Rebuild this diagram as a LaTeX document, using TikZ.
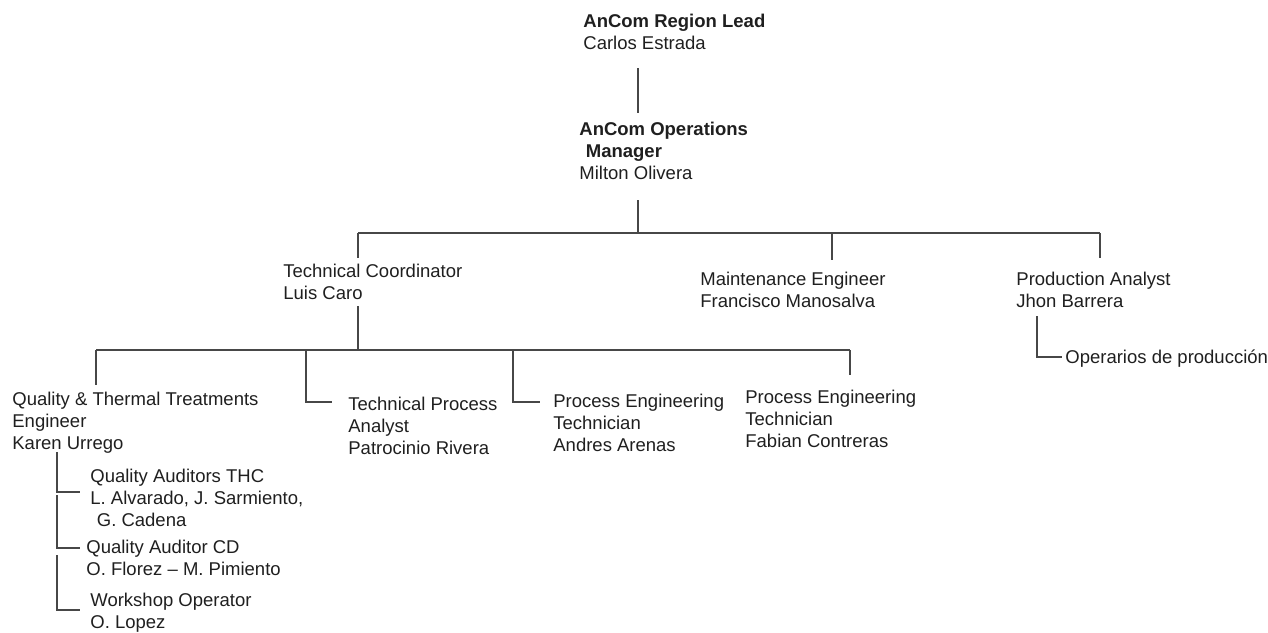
\documentclass[tikz,border=0pt]{standalone}
\usepackage{fontspec}
\setmainfont{Liberation Sans}
\begin{document}
\begin{tikzpicture}[x=0.5pt,y=-0.5pt,
  txt/.style={anchor=north west, inner sep=0pt, align=left, text=black!88,
    font=\fontsize{9.25}{10.9}\selectfont},
  conn/.style={draw=black!72, line width=0.8pt}]
\useasboundingbox (0,0) rectangle (1268,632);
% nodes
\node[txt] (lead) at (583,14) {\textbf{AnCom Region Lead}\\Carlos Estrada};
\node[txt] (ops) at (579,122) {\textbf{AnCom Operations}\\\hspace{0.35em}\textbf{Manager}\\Milton Olivera};
\node[txt] (tc) at (283,264) {Technical Coordinator\\Luis Caro};
\node[txt] (me) at (700,272) {Maintenance Engineer\\Francisco Manosalva};
\node[txt] (pa) at (1016,272) {Production Analyst\\Jhon Barrera};
\node[txt] (op) at (1065,349) {Operarios de producción};
\node[txt] (qe) at (12,392) {Quality \& Thermal Treatments\\Engineer\\Karen Urrego};
\node[txt] (tpa) at (348,397) {Technical Process\\Analyst\\Patrocinio Rivera};
\node[txt] (pet1) at (553,394) {Process Engineering\\Technician\\Andres Arenas};
\node[txt] (pet2) at (745,390) {Process Engineering\\Technician\\Fabian Contreras};
\node[txt] (qa) at (90,469) {Quality Auditors THC\\L. Alvarado, J. Sarmiento,\\\hspace{0.35em}G. Cadena};
\node[txt] (qcd) at (86,540) {Quality Auditor CD\\O. Florez -- M. Pimiento};
\node[txt] (wo) at (90,593) {Workshop Operator\\O. Lopez};
% junction coordinates
\coordinate (l1) at (638,68);
\coordinate (l2) at (638,113);
\coordinate (o1) at (638,200);
\coordinate (o2) at (638,233);
\coordinate (bA) at (358,233);
\coordinate (bB) at (832,233);
\coordinate (bC) at (1100,233);
\coordinate (dA) at (358,258);
\coordinate (dB) at (832,260);
\coordinate (dC) at (1100,258);
\coordinate (t1) at (358,306);
\coordinate (t2) at (358,350);
\coordinate (cA) at (96,350);
\coordinate (cB) at (306,350);
\coordinate (cC) at (513,350);
\coordinate (cD) at (850,350);
\coordinate (eA) at (96,385);
\coordinate (eB) at (306,402);
\coordinate (fB) at (332,402);
\coordinate (eC) at (513,402);
\coordinate (fC) at (540,402);
\coordinate (eD) at (850,375);
\coordinate (p1) at (1037,316);
\coordinate (p2) at (1037,357);
\coordinate (p3) at (1062,357);
\coordinate (k1) at (57,452);
\coordinate (k2) at (57,492);
\coordinate (k3) at (80,492);
\coordinate (k4) at (57,495);
\coordinate (k5) at (57,548);
\coordinate (k6) at (80,548);
\coordinate (k7) at (57,555);
\coordinate (k8) at (57,610);
\coordinate (k9) at (80,610);
% connectors
\draw[conn] (l1) -- (l2);
\draw[conn] (o1) -- (o2);
\draw[conn] (bA) -- (bC);
\draw[conn] (bA) -- (dA);
\draw[conn] (bB) -- (dB);
\draw[conn] (bC) -- (dC);
\draw[conn] (t1) -- (t2);
\draw[conn] (cA) -- (cD);
\draw[conn] (cA) -- (eA);
\draw[conn] (cB) -- (eB) -- (fB);
\draw[conn] (cC) -- (eC) -- (fC);
\draw[conn] (cD) -- (eD);
\draw[conn] (p1) -- (p2) -- (p3);
\draw[conn] (k1) -- (k2) -- (k3);
\draw[conn] (k4) -- (k5) -- (k6);
\draw[conn] (k7) -- (k8) -- (k9);
\end{tikzpicture}
\end{document}
